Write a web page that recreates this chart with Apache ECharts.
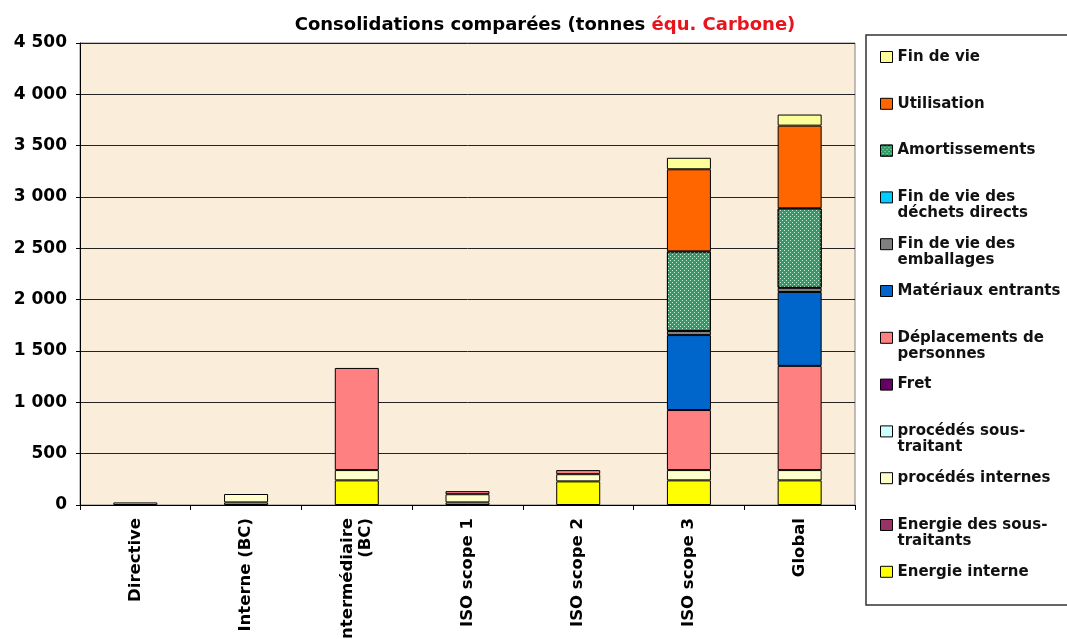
<!DOCTYPE html>
<html>
<head>
<meta charset="utf-8">
<script src="https://cdn.jsdelivr.net/npm/echarts@6/dist/echarts.min.js"></script>
<style>
html,body{margin:0;padding:0;background:#fff;}
#chart{width:1067px;height:639px;}
</style>
</head>
<body>
<div id="chart"></div>
<script>
// ---- Data ----
const categories = ['Directive', 'Interne (BC)', 'Intermédiaire (BC)', 'ISO scope 1', 'ISO scope 2', 'ISO scope 3', 'Global'];
const yTicks = [0, 500, 1000, 1500, 2000, 2500, 3000, 3500, 4000, 4500];

// stacked from bottom to top
const energieInterne       = [25, 25, 240, 25, 230, 240, 240];
const energieSousTraitants = [0, 0, 0, 0, 0, 0, 0];
const procedesInternes     = [0, 82, 100, 80, 70, 100, 100];
const procedesSousTraitant = [0, 0, 0, 0, 0, 0, 0];
const fret                 = [0, 0, 0, 0, 0, 0, 0];
const deplacements         = [0, 0, 995, 30, 40, 585, 1015];
const materiaux            = [0, 0, 0, 0, 0, 730, 720];
const emballages           = [0, 0, 0, 0, 0, 40, 40];
const dechetsDirects       = [0, 0, 0, 0, 0, 0, 0];
const amortissements       = [0, 0, 0, 0, 0, 775, 775];
const utilisation          = [0, 0, 0, 0, 0, 800, 805];
const finDeVie             = [0, 0, 0, 0, 0, 112, 108];

const seriesDefs = [
  ['Energie interne', energieInterne, '#FFFF00'],
  ['Energie des sous-traitants', energieSousTraitants, '#993366'],
  ['procédés internes', procedesInternes, '#FFFFCC'],
  ['procédés sous-traitant', procedesSousTraitant, '#CCFFFF'],
  ['Fret', fret, '#660066'],
  ['Déplacements de personnes', deplacements, '#FF8080'],
  ['Matériaux entrants', materiaux, '#0066CC'],
  ['Fin de vie des emballages', emballages, '#808080'],
  ['Fin de vie des déchets directs', dechetsDirects, '#00CCFF'],
  ['Amortissements', amortissements, '#339966'],
  ['Utilisation', utilisation, '#FF6600'],
  ['Fin de vie', finDeVie, '#FFFF99']
];

const twoLine = {
  'Fin de vie des déchets directs': 'Fin de vie des\ndéchets directs',
  'Fin de vie des emballages': 'Fin de vie des\nemballages',
  'Déplacements de personnes': 'Déplacements de\npersonnes',
  'procédés sous-traitant': 'procédés sous-\ntraitant',
  'Energie des sous-traitants': 'Energie des sous-\ntraitants'
};

const FONT = '"DejaVu Sans", Verdana, sans-serif';

const series = seriesDefs.map(([name, vals, color]) => {
  const itemStyle = { color: color, borderColor: '#000', borderWidth: 1 };
  if (name === 'Amortissements') {
    itemStyle.decal = {
      symbol: 'rect',
      symbolSize: 1,
      color: '#c9ead6',
      dashArrayX: [[1, 3], [0, 2, 1, 1]],
      dashArrayY: [1, 1]
    };
  }
  return {
    name: name,
    type: 'bar',
    stack: 'total',
    barWidth: 44,
    data: vals.map(v => v === 0 ? '-' : v),
    itemStyle: itemStyle,
    emphasis: { disabled: true }
  };
});

const chart = echarts.init(document.getElementById('chart'), null, { renderer: 'canvas' });
chart.setOption({
  animation: false,
  backgroundColor: '#ffffff',
  title: {
    text: '{a|Consolidations comparées (tonnes }{b|équ. Carbone)}',
    left: 540,
    textAlign: 'center',
    top: 11,
    textStyle: {
      rich: {
        a: { fontFamily: FONT, fontWeight: 'bold', fontSize: 18, color: '#000' },
        b: { fontFamily: FONT, fontWeight: 'bold', fontSize: 18, color: '#E8141C' }
      }
    }
  },
  grid: {
    left: 80, right: 212, top: 43, bottom: 134,
    outerBoundsMode: 'none',
    containLabel: false,
    show: true, backgroundColor: '#FAEEDA', borderColor: '#808080', borderWidth: 1
  },
  legend: {
    orient: 'vertical',
    left: 880,
    top: 33,
    padding: 0,
    itemGap: -1.2,
    itemWidth: 12,
    itemHeight: 11,
    icon: 'rect',
    selectedMode: false,
    data: seriesDefs.map(d => d[0]).reverse(),
    itemStyle: { borderColor: '#000', borderWidth: 1 },
    formatter: n => twoLine[n] ? '\n' + twoLine[n] : '\n' + n + '\n',
    textStyle: { fontFamily: FONT, fontWeight: 'bold', fontSize: 15, color: '#111', lineHeight: 16 }
  },
  graphic: [{
    type: 'rect',
    shape: { x: 866, y: 35, width: 210, height: 570 },
    style: { fill: 'none', stroke: '#333', lineWidth: 1.5 },
    silent: true
  }],
  xAxis: {
    type: 'category',
    data: categories,
    axisLine: { lineStyle: { color: '#000', width: 1 } },
    axisTick: { show: true, length: 5, lineStyle: { color: '#000' } },
    axisLabel: {
      rotate: 90,
      margin: 13,
      interval: 0,
      fontFamily: FONT, fontWeight: 'bold', fontSize: 16.5, color: '#000', lineHeight: 18,
      formatter: v => v === 'Intermédiaire (BC)' ? 'Intermédiaire\n(BC)' : v
    }
  },
  yAxis: {
    type: 'value',
    min: yTicks[0],
    max: yTicks[yTicks.length - 1],
    interval: yTicks[1] - yTicks[0],
    axisLine: { show: true, lineStyle: { color: '#000', width: 1 } },
    axisTick: { show: true, length: 4, lineStyle: { color: '#000' } },
    splitLine: { lineStyle: { color: '#222', width: 1 } },
    axisLabel: {
      margin: 13,
      fontFamily: FONT, fontWeight: 'bold', fontSize: 17, color: '#000',
      formatter: v => String(v).replace(/\B(?=(\d{3})+(?!\d))/g, ' ')
    }
  },
  series: series
});
</script>
</body>
</html>
